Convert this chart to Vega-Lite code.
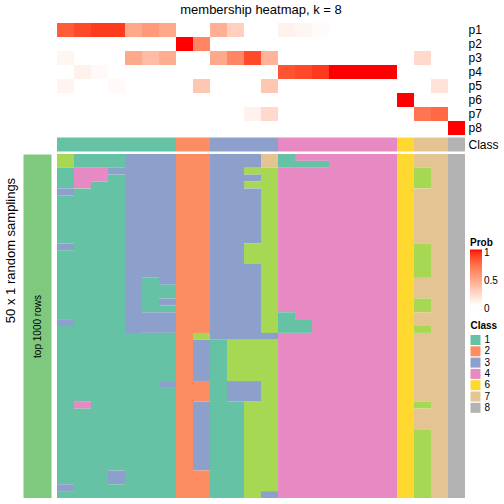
{
"$schema": "https://vega.github.io/schema/vega-lite/v6.json",
"padding": {"left": 3, "top": 4, "right": 0, "bottom": 0},
"config": {"font": "Liberation Sans", "view": {"stroke": null}, "axis": {"grid": false}},
"datasets": {
"prob": [
{"c":0,"p":"p1","v":0.8},{"c":0,"p":"p2","v":0},{"c":0,"p":"p3","v":0.05},{"c":0,"p":"p4","v":0},{"c":0,"p":"p5","v":0.06},{"c":0,"p":"p6","v":0},{"c":0,"p":"p7","v":0},{"c":0,"p":"p8","v":0},
{"c":1,"p":"p1","v":0.87},{"c":1,"p":"p2","v":0},{"c":1,"p":"p3","v":0},{"c":1,"p":"p4","v":0.07},{"c":1,"p":"p5","v":0},{"c":1,"p":"p6","v":0},{"c":1,"p":"p7","v":0},{"c":1,"p":"p8","v":0},
{"c":2,"p":"p1","v":0.91},{"c":2,"p":"p2","v":0},{"c":2,"p":"p3","v":0},{"c":2,"p":"p4","v":0.03},{"c":2,"p":"p5","v":0},{"c":2,"p":"p6","v":0},{"c":2,"p":"p7","v":0},{"c":2,"p":"p8","v":0},
{"c":3,"p":"p1","v":0.91},{"c":3,"p":"p2","v":0},{"c":3,"p":"p3","v":0},{"c":3,"p":"p4","v":0},{"c":3,"p":"p5","v":0.03},{"c":3,"p":"p6","v":0},{"c":3,"p":"p7","v":0},{"c":3,"p":"p8","v":0},
{"c":4,"p":"p1","v":0.45},{"c":4,"p":"p2","v":0},{"c":4,"p":"p3","v":0.45},{"c":4,"p":"p4","v":0},{"c":4,"p":"p5","v":0},{"c":4,"p":"p6","v":0},{"c":4,"p":"p7","v":0},{"c":4,"p":"p8","v":0},
{"c":5,"p":"p1","v":0.53},{"c":5,"p":"p2","v":0},{"c":5,"p":"p3","v":0.36},{"c":5,"p":"p4","v":0},{"c":5,"p":"p5","v":0},{"c":5,"p":"p6","v":0},{"c":5,"p":"p7","v":0},{"c":5,"p":"p8","v":0},
{"c":6,"p":"p1","v":0.45},{"c":6,"p":"p2","v":0},{"c":6,"p":"p3","v":0.43},{"c":6,"p":"p4","v":0},{"c":6,"p":"p5","v":0},{"c":6,"p":"p6","v":0},{"c":6,"p":"p7","v":0},{"c":6,"p":"p8","v":0},
{"c":7,"p":"p1","v":0},{"c":7,"p":"p2","v":1},{"c":7,"p":"p3","v":0},{"c":7,"p":"p4","v":0},{"c":7,"p":"p5","v":0},{"c":7,"p":"p6","v":0},{"c":7,"p":"p7","v":0},{"c":7,"p":"p8","v":0},
{"c":8,"p":"p1","v":0},{"c":8,"p":"p2","v":0.62},{"c":8,"p":"p3","v":0},{"c":8,"p":"p4","v":0},{"c":8,"p":"p5","v":0.3},{"c":8,"p":"p6","v":0},{"c":8,"p":"p7","v":0},{"c":8,"p":"p8","v":0},
{"c":9,"p":"p1","v":0.42},{"c":9,"p":"p2","v":0},{"c":9,"p":"p3","v":0.45},{"c":9,"p":"p4","v":0},{"c":9,"p":"p5","v":0},{"c":9,"p":"p6","v":0},{"c":9,"p":"p7","v":0},{"c":9,"p":"p8","v":0},
{"c":10,"p":"p1","v":0.25},{"c":10,"p":"p2","v":0},{"c":10,"p":"p3","v":0.62},{"c":10,"p":"p4","v":0},{"c":10,"p":"p5","v":0},{"c":10,"p":"p6","v":0},{"c":10,"p":"p7","v":0},{"c":10,"p":"p8","v":0},
{"c":11,"p":"p1","v":0},{"c":11,"p":"p2","v":0},{"c":11,"p":"p3","v":0.87},{"c":11,"p":"p4","v":0},{"c":11,"p":"p5","v":0},{"c":11,"p":"p6","v":0},{"c":11,"p":"p7","v":0.07},{"c":11,"p":"p8","v":0},
{"c":12,"p":"p1","v":0},{"c":12,"p":"p2","v":0},{"c":12,"p":"p3","v":0.4},{"c":12,"p":"p4","v":0},{"c":12,"p":"p5","v":0.3},{"c":12,"p":"p6","v":0},{"c":12,"p":"p7","v":0.2},{"c":12,"p":"p8","v":0},
{"c":13,"p":"p1","v":0.07},{"c":13,"p":"p2","v":0},{"c":13,"p":"p3","v":0},{"c":13,"p":"p4","v":0.83},{"c":13,"p":"p5","v":0},{"c":13,"p":"p6","v":0},{"c":13,"p":"p7","v":0},{"c":13,"p":"p8","v":0},
{"c":14,"p":"p1","v":0.05},{"c":14,"p":"p2","v":0},{"c":14,"p":"p3","v":0},{"c":14,"p":"p4","v":0.87},{"c":14,"p":"p5","v":0},{"c":14,"p":"p6","v":0},{"c":14,"p":"p7","v":0},{"c":14,"p":"p8","v":0},
{"c":15,"p":"p1","v":0.02},{"c":15,"p":"p2","v":0},{"c":15,"p":"p3","v":0},{"c":15,"p":"p4","v":0.92},{"c":15,"p":"p5","v":0},{"c":15,"p":"p6","v":0},{"c":15,"p":"p7","v":0},{"c":15,"p":"p8","v":0},
{"c":16,"p":"p1","v":0},{"c":16,"p":"p2","v":0},{"c":16,"p":"p3","v":0},{"c":16,"p":"p4","v":1},{"c":16,"p":"p5","v":0},{"c":16,"p":"p6","v":0},{"c":16,"p":"p7","v":0},{"c":16,"p":"p8","v":0},
{"c":17,"p":"p1","v":0},{"c":17,"p":"p2","v":0},{"c":17,"p":"p3","v":0},{"c":17,"p":"p4","v":1},{"c":17,"p":"p5","v":0},{"c":17,"p":"p6","v":0},{"c":17,"p":"p7","v":0},{"c":17,"p":"p8","v":0},
{"c":18,"p":"p1","v":0},{"c":18,"p":"p2","v":0},{"c":18,"p":"p3","v":0},{"c":18,"p":"p4","v":1},{"c":18,"p":"p5","v":0},{"c":18,"p":"p6","v":0},{"c":18,"p":"p7","v":0},{"c":18,"p":"p8","v":0},
{"c":19,"p":"p1","v":0},{"c":19,"p":"p2","v":0},{"c":19,"p":"p3","v":0},{"c":19,"p":"p4","v":1},{"c":19,"p":"p5","v":0},{"c":19,"p":"p6","v":0},{"c":19,"p":"p7","v":0},{"c":19,"p":"p8","v":0},
{"c":20,"p":"p1","v":0},{"c":20,"p":"p2","v":0},{"c":20,"p":"p3","v":0},{"c":20,"p":"p4","v":0},{"c":20,"p":"p5","v":0},{"c":20,"p":"p6","v":1},{"c":20,"p":"p7","v":0},{"c":20,"p":"p8","v":0},
{"c":21,"p":"p1","v":0},{"c":21,"p":"p2","v":0},{"c":21,"p":"p3","v":0.2},{"c":21,"p":"p4","v":0},{"c":21,"p":"p5","v":0},{"c":21,"p":"p6","v":0},{"c":21,"p":"p7","v":0.7},{"c":21,"p":"p8","v":0},
{"c":22,"p":"p1","v":0},{"c":22,"p":"p2","v":0},{"c":22,"p":"p3","v":0},{"c":22,"p":"p4","v":0},{"c":22,"p":"p5","v":0.15},{"c":22,"p":"p6","v":0},{"c":22,"p":"p7","v":0.75},{"c":22,"p":"p8","v":0},
{"c":23,"p":"p1","v":0},{"c":23,"p":"p2","v":0},{"c":23,"p":"p3","v":0},{"c":23,"p":"p4","v":0},{"c":23,"p":"p5","v":0},{"c":23,"p":"p6","v":0},{"c":23,"p":"p7","v":0},{"c":23,"p":"p8","v":1}
],
"cls": [
{"c":0,"k":"1"},{"c":1,"k":"1"},{"c":2,"k":"1"},{"c":3,"k":"1"},{"c":4,"k":"1"},{"c":5,"k":"1"},{"c":6,"k":"1"},
{"c":7,"k":"2"},{"c":8,"k":"2"},
{"c":9,"k":"3"},{"c":10,"k":"3"},{"c":11,"k":"3"},{"c":12,"k":"3"},
{"c":13,"k":"4"},{"c":14,"k":"4"},{"c":15,"k":"4"},{"c":16,"k":"4"},{"c":17,"k":"4"},{"c":18,"k":"4"},{"c":19,"k":"4"},
{"c":20,"k":"6"},{"c":21,"k":"7"},{"c":22,"k":"7"},{"c":23,"k":"8"}
],
"samp": [
{"c":0,"r0":0,"r1":2,"k":"5"},{"c":0,"r0":2,"r1":5,"k":"1"},{"c":0,"r0":5,"r1":6,"k":"3"},{"c":0,"r0":6,"r1":13,"k":"1"},{"c":0,"r0":13,"r1":14,"k":"3"},{"c":0,"r0":14,"r1":24,"k":"1"},{"c":0,"r0":24,"r1":25,"k":"3"},{"c":0,"r0":25,"r1":48,"k":"1"},{"c":0,"r0":48,"r1":49,"k":"3"},{"c":0,"r0":49,"r1":50,"k":"1"},
{"c":1,"r0":0,"r1":2,"k":"1"},{"c":1,"r0":2,"r1":5,"k":"4"},{"c":1,"r0":5,"r1":36,"k":"1"},{"c":1,"r0":36,"r1":37,"k":"4"},{"c":1,"r0":37,"r1":50,"k":"1"},
{"c":2,"r0":0,"r1":2,"k":"1"},{"c":2,"r0":2,"r1":4,"k":"4"},{"c":2,"r0":4,"r1":50,"k":"1"},
{"c":3,"r0":0,"r1":2,"k":"1"},{"c":3,"r0":2,"r1":3,"k":"3"},{"c":3,"r0":3,"r1":46,"k":"1"},{"c":3,"r0":46,"r1":48,"k":"3"},{"c":3,"r0":48,"r1":50,"k":"1"},
{"c":4,"r0":0,"r1":26,"k":"3"},{"c":4,"r0":26,"r1":50,"k":"1"},
{"c":5,"r0":0,"r1":18,"k":"3"},{"c":5,"r0":18,"r1":23,"k":"1"},{"c":5,"r0":23,"r1":26,"k":"3"},{"c":5,"r0":26,"r1":50,"k":"1"},
{"c":6,"r0":0,"r1":19,"k":"3"},{"c":6,"r0":19,"r1":21,"k":"1"},{"c":6,"r0":21,"r1":22,"k":"3"},{"c":6,"r0":22,"r1":23,"k":"1"},{"c":6,"r0":23,"r1":26,"k":"3"},{"c":6,"r0":26,"r1":33,"k":"1"},{"c":6,"r0":33,"r1":34,"k":"3"},{"c":6,"r0":34,"r1":50,"k":"1"},
{"c":7,"r0":0,"r1":50,"k":"2"},
{"c":8,"r0":0,"r1":26,"k":"2"},{"c":8,"r0":26,"r1":27,"k":"5"},{"c":8,"r0":27,"r1":33,"k":"3"},{"c":8,"r0":33,"r1":36,"k":"2"},{"c":8,"r0":36,"r1":46,"k":"3"},{"c":8,"r0":46,"r1":50,"k":"2"},
{"c":9,"r0":0,"r1":27,"k":"3"},{"c":9,"r0":27,"r1":50,"k":"1"},
{"c":10,"r0":0,"r1":27,"k":"3"},{"c":10,"r0":27,"r1":33,"k":"5"},{"c":10,"r0":33,"r1":36,"k":"3"},{"c":10,"r0":36,"r1":50,"k":"1"},
{"c":11,"r0":0,"r1":2,"k":"3"},{"c":11,"r0":2,"r1":3,"k":"5"},{"c":11,"r0":3,"r1":4,"k":"3"},{"c":11,"r0":4,"r1":5,"k":"5"},{"c":11,"r0":5,"r1":13,"k":"3"},{"c":11,"r0":13,"r1":16,"k":"5"},{"c":11,"r0":16,"r1":27,"k":"3"},{"c":11,"r0":27,"r1":33,"k":"5"},{"c":11,"r0":33,"r1":36,"k":"3"},{"c":11,"r0":36,"r1":50,"k":"5"},
{"c":12,"r0":0,"r1":2,"k":"7"},{"c":12,"r0":2,"r1":26,"k":"5"},{"c":12,"r0":26,"r1":27,"k":"3"},{"c":12,"r0":27,"r1":49,"k":"5"},{"c":12,"r0":49,"r1":50,"k":"3"},
{"c":13,"r0":0,"r1":2,"k":"1"},{"c":13,"r0":2,"r1":23,"k":"4"},{"c":13,"r0":23,"r1":26,"k":"1"},{"c":13,"r0":26,"r1":50,"k":"4"},
{"c":14,"r0":0,"r1":1,"k":"4"},{"c":14,"r0":1,"r1":2,"k":"1"},{"c":14,"r0":2,"r1":24,"k":"4"},{"c":14,"r0":24,"r1":26,"k":"1"},{"c":14,"r0":26,"r1":50,"k":"4"},
{"c":15,"r0":0,"r1":1,"k":"4"},{"c":15,"r0":1,"r1":2,"k":"1"},{"c":15,"r0":2,"r1":50,"k":"4"},
{"c":16,"r0":0,"r1":50,"k":"4"},{"c":17,"r0":0,"r1":50,"k":"4"},{"c":18,"r0":0,"r1":50,"k":"4"},{"c":19,"r0":0,"r1":50,"k":"4"},
{"c":20,"r0":0,"r1":50,"k":"6"},
{"c":21,"r0":0,"r1":2,"k":"7"},{"c":21,"r0":2,"r1":5,"k":"5"},{"c":21,"r0":5,"r1":13,"k":"7"},{"c":21,"r0":13,"r1":18,"k":"5"},{"c":21,"r0":18,"r1":21,"k":"7"},{"c":21,"r0":21,"r1":23,"k":"5"},{"c":21,"r0":23,"r1":25,"k":"7"},{"c":21,"r0":25,"r1":26,"k":"5"},{"c":21,"r0":26,"r1":36,"k":"7"},{"c":21,"r0":36,"r1":37,"k":"5"},{"c":21,"r0":37,"r1":40,"k":"7"},{"c":21,"r0":40,"r1":50,"k":"5"},
{"c":22,"r0":0,"r1":50,"k":"7"},
{"c":23,"r0":0,"r1":50,"k":"8"}
]
},
"bounds": "flush",
"spacing": 2.5,
"resolve": {"scale": {"color": "independent", "x": "independent", "y": "independent"}},
"vconcat": [
{
"title": {"text": "membership heatmap, k = 8", "anchor": "middle", "frame": "group", "fontSize": 13, "fontWeight": "normal", "color": "black", "offset": 6},
"width": 408, "height": 112,
"data": {"name": "prob"},
"mark": {"type": "rect"},
"encoding": {
"x": {"field": "c", "type": "ordinal", "scale": {"domain": [0,1,2,3,4,5,6,7,8,9,10,11,12,13,14,15,16,17,18,19,20,21,22,23], "paddingInner": 0, "paddingOuter": 0}, "axis": null},
"y": {"field": "p", "type": "nominal", "scale": {"domain": ["p1","p2","p3","p4","p5","p6","p7","p8"], "paddingInner": 0, "paddingOuter": 0}, "axis": {"orient": "right", "title": null, "ticks": false, "domain": false, "labelPadding": 3, "labelFontSize": 12, "labelColor": "black"}},
"color": {"field": "v", "type": "quantitative", "scale": {"domain": [0, 1], "range": ["#ffffff", "#ff0000"], "interpolate": "lab", "zero": false}, "legend": {"orient": "none", "legendX": 413, "legendY": 214.5, "title": "Prob", "titleFontSize": 10, "titleFontWeight": "bold", "titleColor": "black", "titlePadding": 2, "gradientLength": 56, "gradientThickness": 12, "gradientStrokeWidth": 0, "values": [0, 0.5, 1], "format": "~g", "labelFontSize": 10, "labelOffset": 2, "labelColor": "black", "direction": "vertical", "encode": {"labels": {"update": {"baseline": {"value": "middle"}, "dy": {"value": 3}}}}}}
}
},
{
"width": 408, "height": 14,
"data": {"name": "cls"},
"mark": {"type": "rect"},
"encoding": {
"x": {"field": "c", "type": "ordinal", "scale": {"domain": [0,1,2,3,4,5,6,7,8,9,10,11,12,13,14,15,16,17,18,19,20,21,22,23], "paddingInner": 0, "paddingOuter": 0}, "axis": null},
"y": {"datum": "Class", "type": "nominal", "scale": {"paddingInner": 0, "paddingOuter": 0}, "axis": {"orient": "right", "title": null, "ticks": false, "domain": false, "labelPadding": 3, "labelFontSize": 12, "labelColor": "black"}},
"color": {"field": "k", "type": "nominal", "scale": {"domain": ["1","2","3","4","5","6","7","8"], "range": ["#66c2a5","#fc8d62","#8da0cb","#e78ac3","#a6d854","#ffd92f","#e5c494","#b3b3b3"]}, "legend": null}
}
},
{
"width": 408, "height": 344,
"data": {"name": "samp"},
"resolve": {"axis": {"y": "independent"}},
"layer": [
{
"mark": {"type": "rect"},
"encoding": {
"x": {"field": "c", "type": "ordinal", "scale": {"domain": [0,1,2,3,4,5,6,7,8,9,10,11,12,13,14,15,16,17,18,19,20,21,22,23], "paddingInner": 0, "paddingOuter": 0}, "axis": null},
"y": {"field": "r0", "type": "quantitative", "scale": {"domain": [0, 50], "reverse": true, "nice": false, "zero": false}, "axis": {"orient": "left", "offset": 20, "domainColor": "#7fc97f", "domainWidth": 28, "ticks": false, "tickSize": 0, "labels": false, "zindex": 0, "title": "50 x 1 random samplings", "titleAngle": 270, "titleAlign": "center", "titleBaseline": "middle", "titleX": -27, "titleY": 96, "titleFontSize": 13, "titleFontWeight": "normal", "titleColor": "black"}},
"y2": {"field": "r1"},
"color": {"field": "k", "type": "nominal", "scale": {"domain": ["1","2","3","4","5","6","7","8"], "range": ["#66c2a5","#fc8d62","#8da0cb","#e78ac3","#a6d854","#ffd92f","#e5c494","#b3b3b3"]}, "legend": {"values": ["1","2","3","4","6","7","8"], "orient": "none", "legendX": 413.5, "legendY": 167, "title": "Class", "titleFontSize": 10, "titleFontWeight": "bold", "titleColor": "black", "titlePadding": 4, "labelFontSize": 10, "labelColor": "black", "labelOffset": 4, "symbolType": "square", "symbolSize": 100, "symbolStrokeWidth": 0, "symbolOpacity": 1, "rowPadding": 1.3}}
}
},
{
"mark": {"type": "rect", "opacity": 0},
"encoding": {
"x": {"field": "c", "type": "ordinal", "axis": null},
"y": {"field": "r0", "type": "quantitative", "axis": {"orient": "left", "offset": 20, "domain": false, "ticks": false, "tickSize": 0, "values": [25], "labelExpr": "'top 1000 rows'", "labelAngle": 270, "labelAlign": "center", "labelBaseline": "middle", "labelPadding": 0, "labelFontSize": 10, "labelColor": "black", "zindex": 1, "title": null}},
"y2": {"field": "r1"}
}
}
]
}
]
}
